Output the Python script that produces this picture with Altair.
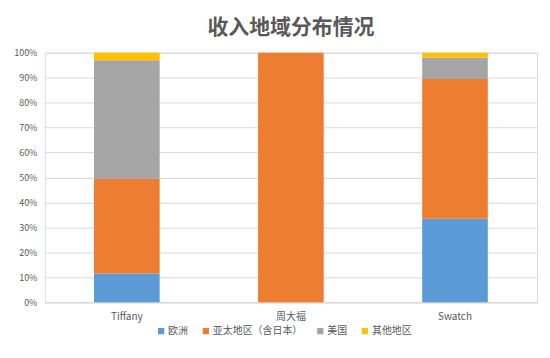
import altair as alt
import pandas as pd

brands = ["Tiffany", "周大福", "Swatch"]
regions = ["欧洲", "亚太地区（含日本）", "美国", "其他地区"]
colors = ["#5B9BD5", "#ED7D31", "#A5A5A5", "#FFC000"]
# percent share per region, per brand (Tiffany, 周大福, Swatch)
europe = [11.5, 0, 33.5]
apac = [38.0, 100, 56.0]
usa = [47.5, 0, 8.5]
other = [3.0, 0, 2.0]

series = [europe, apac, usa, other]
rows = []
for ri, (reg, vals) in enumerate(zip(regions, series)):
    for b, v in zip(brands, vals):
        rows.append({"brand": b, "region": reg, "value": v, "ord": ri})
df = pd.DataFrame(rows)

FONT = "Noto Sans CJK SC"

chart = alt.Chart(df).mark_bar().encode(
    x=alt.X("brand:N", sort=brands, title=None,
            scale=alt.Scale(paddingInner=0.6, paddingOuter=0.3),
            axis=alt.Axis(labelAngle=0, ticks=False, domainColor="#D9D9D9",
                          labelColor="#595959", labelFontSize=10, labelPadding=9,
                          labelFont=FONT)),
    y=alt.Y("value:Q", stack="zero", title=None,
            scale=alt.Scale(domain=[0, 100], nice=False),
            axis=alt.Axis(values=list(range(0, 101, 10)), labelExpr="datum.value + '%'",
                          domain=False, ticks=False, gridColor="#D9D9D9",
                          labelColor="#595959", labelFontSize=9, labelPadding=8,
                          labelFont=FONT)),
    color=alt.Color("region:N", sort=regions,
                    scale=alt.Scale(domain=regions, range=colors),
                    legend=alt.Legend(title=None, orient="none", direction="horizontal",
                                      legendX=112, legendY=275, symbolType="square",
                                      symbolSize=40, symbolStrokeWidth=0,
                                      labelFontSize=10, labelColor="#595959",
                                      labelFont=FONT, columnPadding=13,
                                      symbolOffset=0, labelOffset=2)),
    order=alt.Order("ord:Q", sort="ascending"),
).properties(
    width=495, height=251,
    title=alt.TitleParams("收入地域分布情况", fontSize=21, font=FONT, color="#595959",
                          fontWeight="bold", offset=11, anchor="middle"),
    padding={"left": 5, "top": 8, "right": 5, "bottom": 5},
).configure_view(stroke=None).configure(background="white")

chart.save("out.html", embed_options={"renderer": "svg", "actions": False})
